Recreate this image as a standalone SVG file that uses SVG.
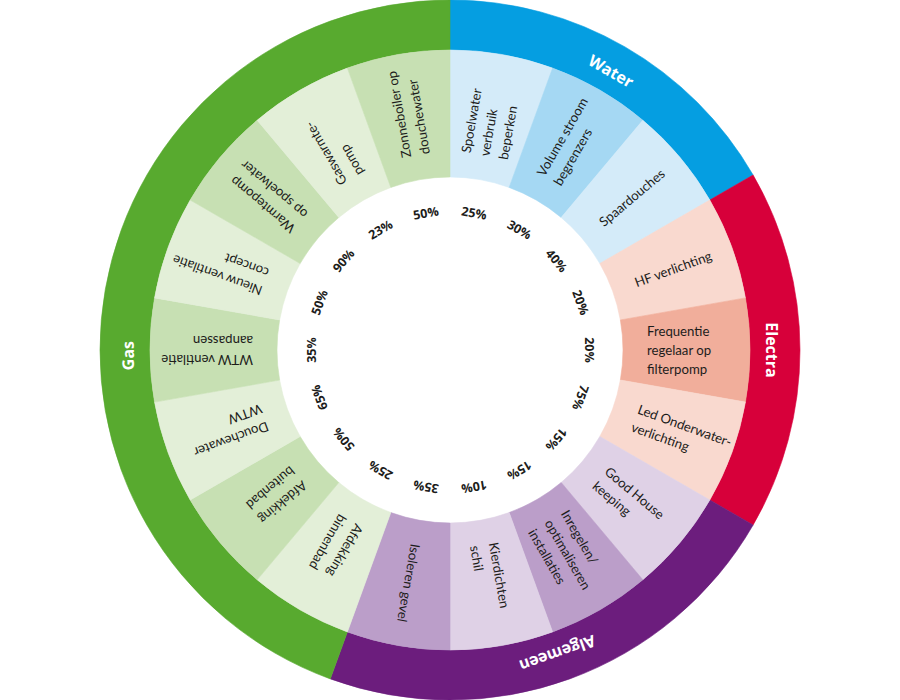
<svg xmlns="http://www.w3.org/2000/svg" width="900" height="700" viewBox="0 0 900 700">
<style>
.lbl{font-family:Lato,"Open Sans","Liberation Sans",sans-serif;font-size:13.2px;fill:#1d1d1b}
.pct{font-family:"Open Sans","Liberation Sans",sans-serif;font-size:12.5px;font-weight:700;fill:#1d1d1b;text-anchor:middle}
.ring{font-family:"Open Sans","Liberation Sans",sans-serif;font-size:16px;font-weight:700;fill:#ffffff;text-anchor:middle}
.wL{fill:#d4ebf9;stroke:#d4ebf9}.wM{fill:#a5d8f3;stroke:#a5d8f3}
.eL{fill:#f9d9cf;stroke:#f9d9cf}.eM{fill:#f1ae9b;stroke:#f1ae9b}
.aL{fill:#dfd1e6;stroke:#dfd1e6}.aM{fill:#bb9ec9;stroke:#bb9ec9}
.gL{fill:#e3efd8;stroke:#e3efd8}.gM{fill:#c7e0b3;stroke:#c7e0b3}
.seg path{stroke-width:0.6}
</style>
<rect x="0" y="0" width="900" height="700" fill="#ffffff"/>
<!-- category bands -->
<g id="band-water"><path d="M450,0 A350,350 0 0 1 753.11,175 L709.81,200 A300,300 0 0 0 450,50 Z" fill="#059ee1" stroke="#059ee1" stroke-width="0.6"/><text class="ring" transform="rotate(30 450 350)" x="450" y="33.8">Water</text></g>
<g id="band-electra"><path d="M753.11,175 A350,350 0 0 1 753.11,525 L709.81,500 A300,300 0 0 0 709.81,200 Z" fill="#d7003a" stroke="#d7003a" stroke-width="0.6"/><text class="ring" transform="rotate(90 450 350)" x="450" y="33.8">Electra</text></g>
<g id="band-algemeen"><path d="M753.11,525 A350,350 0 0 1 330.29,678.89 L347.39,631.91 A300,300 0 0 0 709.81,500 Z" fill="#6c1d7d" stroke="#6c1d7d" stroke-width="0.6"/><text class="ring" transform="rotate(160.5 450 350)" x="450" y="33.8">Algemeen</text></g>
<g id="band-gas"><path d="M330.29,678.89 A350,350 0 0 1 450,0 L450,50 A300,300 0 0 0 347.39,631.91 Z" fill="#58aa2f" stroke="#58aa2f" stroke-width="0.6"/><text class="ring" transform="rotate(269 450 350)" x="450" y="33.8">Gas</text></g>
<!-- segments -->
<g id="seg0" class="seg"><path class="wL" d="M450,50 A300,300 0 0 1 552.61,68.09 L509.17,187.43 A173,173 0 0 0 450,177 Z"/><text class="lbl" transform="rotate(-80 450 350)"><tspan x="647" y="336">Spoelwater</tspan><tspan x="647" y="355">verbruik</tspan><tspan x="647" y="374">beperken</tspan></text></g>
<g id="seg1" class="seg"><path class="wM" d="M552.61,68.09 A300,300 0 0 1 642.84,120.19 L561.2,217.47 A173,173 0 0 0 509.17,187.43 Z"/><text class="lbl" transform="rotate(-60 450 350)"><tspan x="647" y="345.5">Volume stroom</tspan><tspan x="647" y="364.5">begrenzers</tspan></text></g>
<g id="seg2" class="seg"><path class="wL" d="M642.84,120.19 A300,300 0 0 1 709.81,200 L599.82,263.5 A173,173 0 0 0 561.2,217.47 Z"/><text class="lbl" transform="rotate(-40 450 350)"><tspan x="647" y="355">Spaardouches</tspan></text></g>
<g id="seg3" class="seg"><path class="eL" d="M709.81,200 A300,300 0 0 1 745.44,297.9 L620.37,319.96 A173,173 0 0 0 599.82,263.5 Z"/><text class="lbl" transform="rotate(-20 450 350)"><tspan x="647" y="355">HF verlichting</tspan></text></g>
<g id="seg4" class="seg"><path class="eM" d="M745.44,297.9 A300,300 0 0 1 745.44,402.1 L620.37,380.04 A173,173 0 0 0 620.37,319.96 Z"/><text class="lbl" transform="rotate(0 450 350)"><tspan x="647" y="336">Frequentie</tspan><tspan x="647" y="355">regelaar op</tspan><tspan x="647" y="374">filterpomp</tspan></text></g>
<g id="seg5" class="seg"><path class="eL" d="M745.44,402.1 A300,300 0 0 1 709.81,500 L599.82,436.5 A173,173 0 0 0 620.37,380.04 Z"/><text class="lbl" transform="rotate(20 450 350)"><tspan x="647" y="345.5">Led Onderwater-</tspan><tspan x="647" y="364.5">verlichting</tspan></text></g>
<g id="seg6" class="seg"><path class="aL" d="M709.81,500 A300,300 0 0 1 642.84,579.81 L561.2,482.53 A173,173 0 0 0 599.82,436.5 Z"/><text class="lbl" transform="rotate(40 450 350)"><tspan x="647" y="345.5">Good House</tspan><tspan x="647" y="364.5">keeping</tspan></text></g>
<g id="seg7" class="seg"><path class="aM" d="M642.84,579.81 A300,300 0 0 1 552.61,631.91 L509.17,512.57 A173,173 0 0 0 561.2,482.53 Z"/><text class="lbl" transform="rotate(60 450 350)"><tspan x="647" y="336">Inregelen/</tspan><tspan x="647" y="355">optimaliseren</tspan><tspan x="647" y="374">installaties</tspan></text></g>
<g id="seg8" class="seg"><path class="aL" d="M552.61,631.91 A300,300 0 0 1 450,650 L450,523 A173,173 0 0 0 509.17,512.57 Z"/><text class="lbl" transform="rotate(80 450 350)"><tspan x="647" y="345.5">Kierdichten</tspan><tspan x="647" y="364.5">schil</tspan></text></g>
<g id="seg9" class="seg"><path class="aM" d="M450,650 A300,300 0 0 1 347.39,631.91 L390.83,512.57 A173,173 0 0 0 450,523 Z"/><text class="lbl" transform="rotate(100 450 350)"><tspan x="647" y="355">Isoleren gevel</tspan></text></g>
<g id="seg10" class="seg"><path class="gL" d="M347.39,631.91 A300,300 0 0 1 257.16,579.81 L338.8,482.53 A173,173 0 0 0 390.83,512.57 Z"/><text class="lbl" transform="rotate(120 450 350)"><tspan x="647" y="345.5">Afdekking</tspan><tspan x="647" y="364.5">binnenbad</tspan></text></g>
<g id="seg11" class="seg"><path class="gM" d="M257.16,579.81 A300,300 0 0 1 190.19,500 L300.18,436.5 A173,173 0 0 0 338.8,482.53 Z"/><text class="lbl" transform="rotate(140 450 350)"><tspan x="647" y="345.5">Afdekking</tspan><tspan x="647" y="364.5">buitenbad</tspan></text></g>
<g id="seg12" class="seg"><path class="gL" d="M190.19,500 A300,300 0 0 1 154.56,402.1 L279.63,380.04 A173,173 0 0 0 300.18,436.5 Z"/><text class="lbl" transform="rotate(160 450 350)"><tspan x="647" y="345.5">Douchewater</tspan><tspan x="647" y="364.5">WTW</tspan></text></g>
<g id="seg13" class="seg"><path class="gM" d="M154.56,402.1 A300,300 0 0 1 154.56,297.9 L279.63,319.96 A173,173 0 0 0 279.63,380.04 Z"/><text class="lbl" transform="rotate(180 450 350)"><tspan x="647" y="345.5">WTW ventilatie</tspan><tspan x="647" y="364.5">aanpassen</tspan></text></g>
<g id="seg14" class="seg"><path class="gL" d="M154.56,297.9 A300,300 0 0 1 190.19,200 L300.18,263.5 A173,173 0 0 0 279.63,319.96 Z"/><text class="lbl" transform="rotate(200 450 350)"><tspan x="647" y="345.5">Nieuw ventilatie</tspan><tspan x="647" y="364.5">concept</tspan></text></g>
<g id="seg15" class="seg"><path class="gM" d="M190.19,200 A300,300 0 0 1 257.16,120.19 L338.8,217.47 A173,173 0 0 0 300.18,263.5 Z"/><text class="lbl" transform="rotate(220 450 350)"><tspan x="647" y="345.5">Warmtepomp</tspan><tspan x="647" y="364.5">op spoelwater</tspan></text></g>
<g id="seg16" class="seg"><path class="gL" d="M257.16,120.19 A300,300 0 0 1 347.39,68.09 L390.83,187.43 A173,173 0 0 0 338.8,217.47 Z"/><text class="lbl" transform="rotate(240 450 350)"><tspan x="647" y="345.5">Gaswarmte-</tspan><tspan x="647" y="364.5">pomp</tspan></text></g>
<g id="seg17" class="seg"><path class="gM" d="M347.39,68.09 A300,300 0 0 1 450,50 L450,177 A173,173 0 0 0 390.83,187.43 Z"/><text class="lbl" transform="rotate(260 450 350)"><tspan x="647" y="345.5">Zonneboiler op</tspan><tspan x="647" y="364.5">douchewater</tspan></text></g>
<!-- percentages -->
<g id="percentages">
<text class="pct" transform="rotate(10 450 350)" x="450" y="215.5">25%</text>
<text class="pct" transform="rotate(30 450 350)" x="450" y="215.5">30%</text>
<text class="pct" transform="rotate(50 450 350)" x="450" y="215.5">40%</text>
<text class="pct" transform="rotate(70 450 350)" x="450" y="215.5">20%</text>
<text class="pct" transform="rotate(90 450 350)" x="450" y="215.5">20%</text>
<text class="pct" transform="rotate(110 450 350)" x="450" y="215.5">75%</text>
<text class="pct" transform="rotate(130 450 350)" x="450" y="215.5">15%</text>
<text class="pct" transform="rotate(150 450 350)" x="450" y="215.5">15%</text>
<text class="pct" transform="rotate(170 450 350)" x="450" y="215.5">10%</text>
<text class="pct" transform="rotate(190 450 350)" x="450" y="215.5">35%</text>
<text class="pct" transform="rotate(210 450 350)" x="450" y="215.5">25%</text>
<text class="pct" transform="rotate(230 450 350)" x="450" y="215.5">50%</text>
<text class="pct" transform="rotate(250 450 350)" x="450" y="215.5">65%</text>
<text class="pct" transform="rotate(270 450 350)" x="450" y="215.5">35%</text>
<text class="pct" transform="rotate(290 450 350)" x="450" y="215.5">50%</text>
<text class="pct" transform="rotate(310 450 350)" x="450" y="215.5">90%</text>
<text class="pct" transform="rotate(330 450 350)" x="450" y="215.5">23%</text>
<text class="pct" transform="rotate(350 450 350)" x="450" y="215.5">50%</text>
</g>
<g id="connectors"/>
</svg>
